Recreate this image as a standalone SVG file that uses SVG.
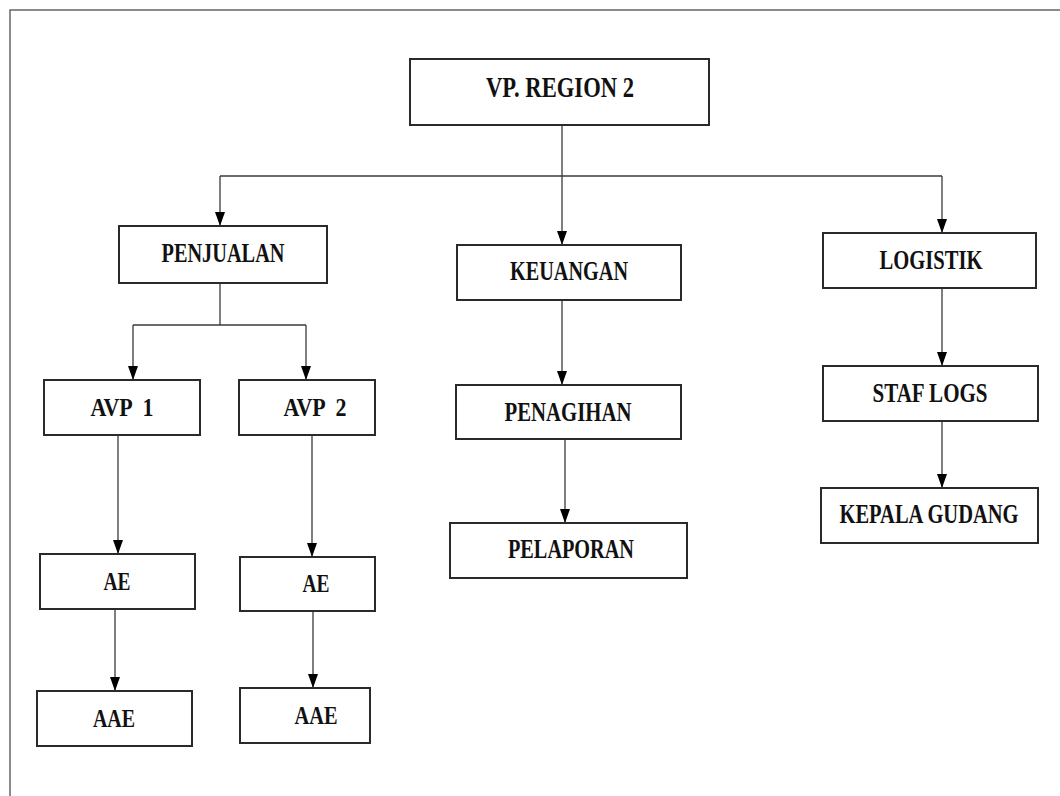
<svg xmlns="http://www.w3.org/2000/svg" width="1060" height="796" viewBox="0 0 1060 796">
<style>
.box{fill:#fff;stroke:#2a2a2a;stroke-width:2}
.lbl{font-family:"Liberation Serif","Times New Roman",serif;font-weight:bold;fill:#111;text-anchor:middle}
.con{fill:none;stroke:#3a3a3a;stroke-width:1.3}
.frame{stroke:#666;stroke-width:1.5;fill:none}
</style>
<defs>
<marker id="arr" viewBox="0 0 14 10" refX="14" refY="5" markerWidth="14" markerHeight="10" orient="auto" markerUnits="userSpaceOnUse">
<path d="M0,0 L14,5 L0,10 Z" fill="#000"/>
</marker>
</defs>
<rect width="1060" height="796" fill="#fff"/>
<path class="frame" d="M10,796 V10 H1060"/>
<g id="connectors">
<path class="con" d="M562,125 V176"/>
<path class="con" d="M220,176 H942"/>
<path class="con" d="M220,176 V226" marker-end="url(#arr)"/>
<path class="con" d="M562,176 V245" marker-end="url(#arr)"/>
<path class="con" d="M942,176 V233" marker-end="url(#arr)"/>
<path class="con" d="M220,283 V325 M133,325 H306"/>
<path class="con" d="M133,325 V380" marker-end="url(#arr)"/>
<path class="con" d="M306,325 V380" marker-end="url(#arr)"/>
<path class="con" d="M118,435 V554" marker-end="url(#arr)"/>
<path class="con" d="M312,435 V557" marker-end="url(#arr)"/>
<path class="con" d="M115,609 V691" marker-end="url(#arr)"/>
<path class="con" d="M313,611 V688" marker-end="url(#arr)"/>
<path class="con" d="M562,300 V385" marker-end="url(#arr)"/>
<path class="con" d="M565,439 V523" marker-end="url(#arr)"/>
<path class="con" d="M942,288 V366" marker-end="url(#arr)"/>
<path class="con" d="M942,421 V488" marker-end="url(#arr)"/>
</g>
<g id="vp"><rect class="box" x="410" y="59" width="299" height="66"/><text class="lbl" x="560" y="97" font-size="29" textLength="148" lengthAdjust="spacingAndGlyphs">VP. REGION 2</text></g>
<g id="penjualan"><rect class="box" x="119" y="226" width="208" height="57"/><text class="lbl" x="223" y="262" font-size="28" textLength="123" lengthAdjust="spacingAndGlyphs">PENJUALAN</text></g>
<g id="keuangan"><rect class="box" x="457" y="245" width="224" height="55"/><text class="lbl" x="569" y="280" font-size="27" textLength="118" lengthAdjust="spacingAndGlyphs">KEUANGAN</text></g>
<g id="logistik"><rect class="box" x="823" y="233" width="213" height="55"/><text class="lbl" x="931" y="269" font-size="28" textLength="103" lengthAdjust="spacingAndGlyphs">LOGISTIK</text></g>
<g id="avp1"><rect class="box" x="44" y="380" width="156" height="55"/><text class="lbl" x="122" y="416" font-size="25" textLength="63" lengthAdjust="spacingAndGlyphs" xml:space="preserve">AVP  1</text></g>
<g id="avp2"><rect class="box" x="239" y="380" width="136" height="55"/><text class="lbl" x="315" y="416" font-size="25" textLength="63" lengthAdjust="spacingAndGlyphs" xml:space="preserve">AVP  2</text></g>
<g id="penagihan"><rect class="box" x="456" y="385" width="225" height="54"/><text class="lbl" x="568" y="421" font-size="28" textLength="127" lengthAdjust="spacingAndGlyphs">PENAGIHAN</text></g>
<g id="staflogs"><rect class="box" x="823" y="366" width="215" height="55"/><text class="lbl" x="930" y="402" font-size="28" textLength="115" lengthAdjust="spacingAndGlyphs">STAF LOGS</text></g>
<g id="kepalagudang"><rect class="box" x="821" y="488" width="217" height="55"/><text class="lbl" transform="translate(929,523) scale(0.76,1)" x="0" y="0" font-size="27">KEPALA GUDANG</text></g>
<g id="pelaporan"><rect class="box" x="450" y="523" width="237" height="55"/><text class="lbl" x="571" y="558" font-size="28" textLength="126" lengthAdjust="spacingAndGlyphs">PELAPORAN</text></g>
<g id="ae1"><rect class="box" x="40" y="554" width="155" height="55"/><text class="lbl" x="117" y="590" font-size="25" textLength="27" lengthAdjust="spacingAndGlyphs">AE</text></g>
<g id="ae2"><rect class="box" x="240" y="557" width="135" height="54"/><text class="lbl" x="316" y="592" font-size="25" textLength="27" lengthAdjust="spacingAndGlyphs">AE</text></g>
<g id="aae1"><rect class="box" x="37" y="691" width="155" height="55"/><text class="lbl" x="114" y="727" font-size="25" textLength="42" lengthAdjust="spacingAndGlyphs">AAE</text></g>
<g id="aae2"><rect class="box" x="240" y="688" width="130" height="55"/><text class="lbl" x="316" y="724" font-size="25" textLength="43" lengthAdjust="spacingAndGlyphs">AAE</text></g>
</svg>
